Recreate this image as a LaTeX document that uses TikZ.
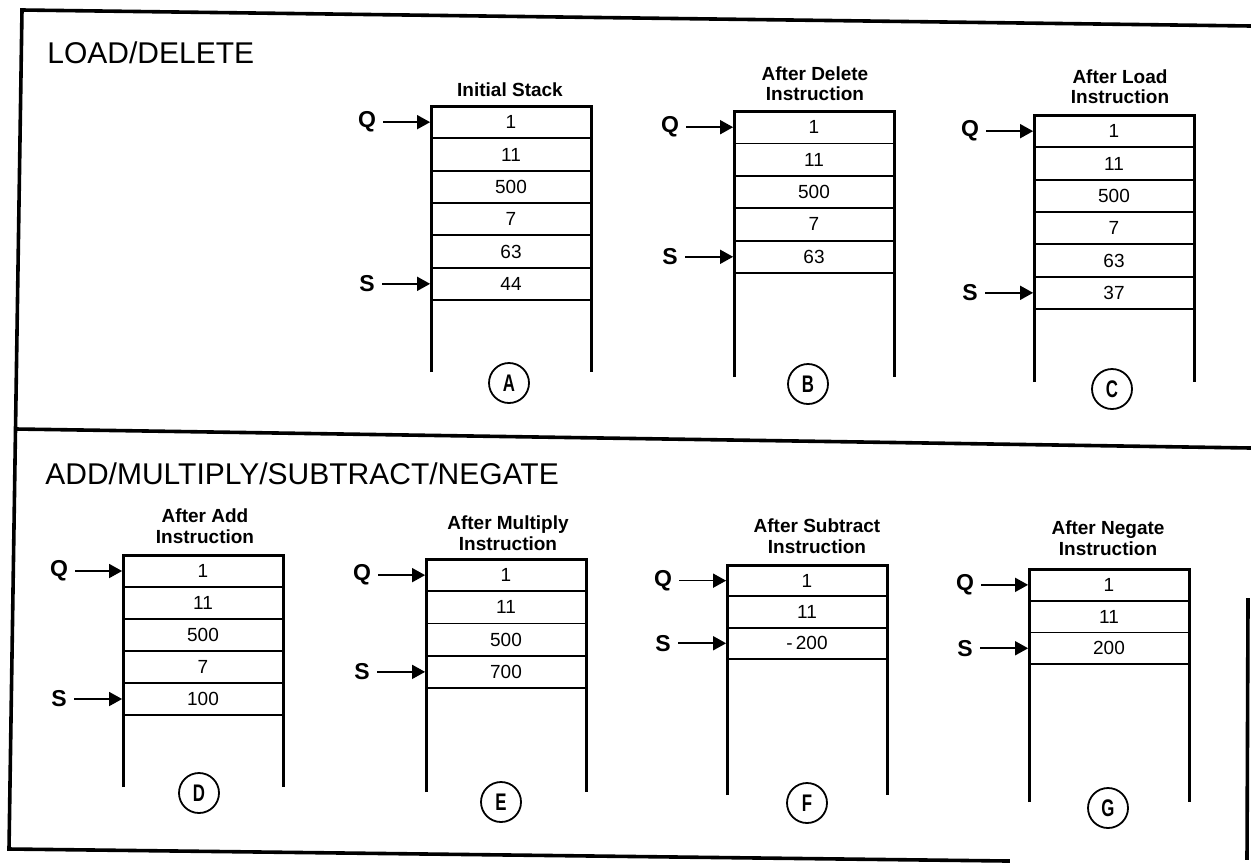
\documentclass[tikz,border=0pt]{standalone}
\usepackage{fontspec}
\setmainfont{Liberation Sans}
\usepackage{graphicx}
\usetikzlibrary{arrows.meta}
\tikzset{
  cell/.style={draw, line width=0.9pt, rectangle, minimum width=80pt, inner sep=0pt, font=\fontsize{9.5}{11}\selectfont},
  wall/.style={line width=1.5pt, line join=miter},
  ptr/.style={inner sep=0pt, font=\bfseries\fontsize{11.5}{13}\selectfont},
  arr/.style={line width=0.8pt, -{Triangle[length=6.5pt,width=7pt]}, shorten <=3.5pt},
  lbl/.style={circle, draw, line width=0.9pt, minimum size=20pt, inner sep=0pt, font=\bfseries\fontsize{12}{14}\selectfont},
  ttl/.style={align=center, inner sep=0pt, font=\bfseries\fontsize{9.5}{10.2}\selectfont},
  head/.style={anchor=base west, inner sep=0pt, font=\fontsize{15}{18}\selectfont},
  frame/.style={line width=1.8pt, line cap=rect},
}
% #1 name, #2 left x, #3 top y, #4 wall bottom y, #5 row height, #6 values, #7 S row
\newcommand{\stk}[7]{%
  \foreach \v [count=\i] in {#6} {
    \node[cell, minimum height={#5*0.5pt}] (#1\i) at ({#2+80},{#3+(\i-0.5)*#5}) {\v};
  }
  \coordinate (#1tl) at (#2,#3);
  \coordinate (#1tr) at ({#2+160},#3);
  \coordinate (#1bl) at (#2,#4);
  \coordinate (#1br) at ({#2+160},#4);
  \draw[wall] (#1bl) -- (#1tl) -- (#1tr) -- (#1br);
  \node[ptr] (#1Q) at ({#2-64},{#3+0.5*#5}) {Q};
  \node[ptr] (#1S) at ({#2-64},{#3+(#7-0.5)*#5}) {S};
  \draw[arr] (#1Q) -- (#11.west);
  \draw[arr] (#1S) -- (#1#7.west);
}
\newcommand{\circlbl}[1]{\scalebox{0.7}[1]{#1}}
\begin{document}
\begin{tikzpicture}[x=0.5pt,y=-0.5pt]
\fill[white] (0,0) rectangle (1251,863);
\useasboundingbox (0,0) rectangle (1251,863);

% frame
\coordinate (ftl) at (22,10);
\coordinate (ftr) at (1251,26);
\coordinate (fbl) at (9,849);
\coordinate (fbr) at (1008,861);
\coordinate (dl) at (16,429);
\coordinate (dr) at (1251,448);
\coordinate (rt) at (1248,600);
\coordinate (rb) at (1247,858);
\draw[frame] (ftr) -- (ftl) -- (fbl) -- (fbr);
\draw[frame] (dl) -- (dr);
\draw[frame] (rt) -- (rb);

% headings
\node[head] (h1) at (47,63) {LOAD/DELETE};
\node[head] (h2) at (45,484) {ADD/MULTIPLY/SUBTRACT/NEGATE};

% top panel
\stk{A}{431}{106}{372}{32.33}{1,11,500,7,63,44}{6}
\node[ttl] (At) at (510,90) {Initial Stack};
\node[lbl] (Ac) at (509,383) {\circlbl{A}};

\stk{B}{734}{111}{377}{32.4}{1,11,500,7,63}{5}
\node[ttl] (Bt) at (815,84) {After Delete\\Instruction};
\node[lbl] (Bc) at (808,384) {\circlbl{B}};

\stk{C}{1034}{115}{382}{32.33}{1,11,500,7,63,37}{6}
\node[ttl] (Ct) at (1120,87) {After Load\\Instruction};
\node[lbl] (Cc) at (1112,389) {\circlbl{C}};

% bottom panel
\stk{D}{123}{555}{787}{32}{1,11,500,7,100}{5}
\node[ttl] (Dt) at (205,526) {After Add\\Instruction};
\node[lbl] (Dc) at (199,793) {\circlbl{D}};

\stk{E}{426}{559}{792}{32.25}{1,11,500,700}{4}
\node[ttl] (Et) at (508,533) {After Multiply\\Instruction};
\node[lbl] (Ec) at (501,802) {\circlbl{E}};

\stk{F}{727}{565}{795}{31.3}{1,11,-\,200}{3}
\node[ttl] (Ft) at (817,536) {After Subtract\\Instruction};
\node[lbl] (Fc) at (807,803) {\circlbl{F}};

\stk{G}{1029}{569}{802}{31.7}{1,11,200}{3}
\node[ttl] (Gt) at (1108,538) {After Negate\\Instruction};
\node[lbl] (Gc) at (1108,808) {\circlbl{G}};
\end{tikzpicture}
\end{document}
